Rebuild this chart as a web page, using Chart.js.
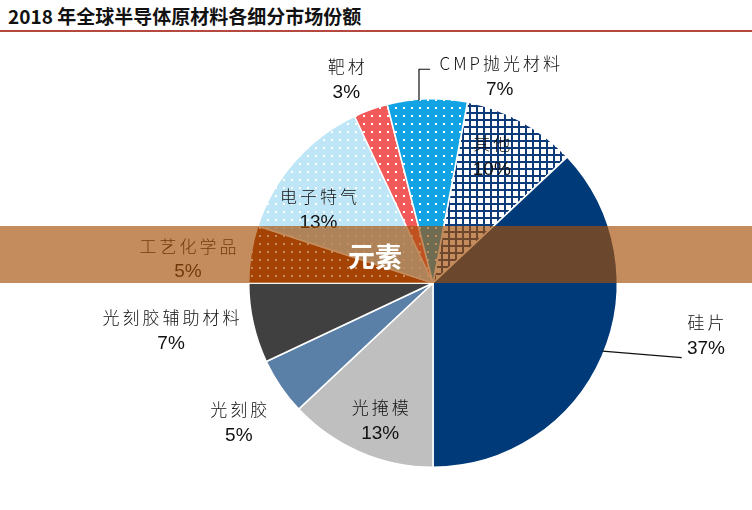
<!DOCTYPE html>
<html><head><meta charset="utf-8">
<script src="https://cdn.jsdelivr.net/npm/chart.js@4"></script>
<style>
body{margin:0;width:752px;height:510px;background:#fff;overflow:hidden;font-family:"Noto Sans CJK SC",sans-serif;position:relative}
#title{position:absolute;left:8px;top:2px;font-size:19px;font-weight:bold;color:#111;letter-spacing:0px}
#rule{position:absolute;left:0;top:30px;width:752px;height:2px;background:#b5483f}
#band{position:absolute;left:0;top:226px;width:752px;height:57px;background:rgba(165,78,4,0.65);z-index:5}
#band span{position:absolute;left:348px;top:10px;color:#fff;font-size:27px;font-weight:bold}
canvas{position:absolute;left:0;top:0}
</style></head><body>
<div id="title">2018 年全球半导体原材料各细分市场份额</div>
<div id="rule"></div>
<canvas id="c" width="752" height="510"></canvas>
<div id="band"><span>元素</span></div>
<script>
const categories=['其他','硅片','光掩模','光刻胶','光刻胶辅助材料','工艺化学品','电子特气','靶材','CMP抛光材料'];
const values=[10,37,13,5,7,5,13,3,7];
const pctLabels=['10%','37%','13%','5%','7%','5%','13%','3%','7%'];

function dots(bg){const p=document.createElement('canvas');p.width=8;p.height=8;const x=p.getContext('2d');x.fillStyle=bg;x.fillRect(0,0,8,8);x.fillStyle='#fff';x.fillRect(3,3,2,2);return x.createPattern(p,'repeat');}
function grid(){const p=document.createElement('canvas');p.width=7;p.height=7;const x=p.getContext('2d');x.fillStyle='#fff';x.fillRect(0,0,7,7);x.fillStyle='#0d3a78';x.fillRect(0,0,7,2);x.fillRect(0,0,2,7);return x.createPattern(p,'repeat');}
const ctx0=document.getElementById('c').getContext('2d');
const colors=[grid(),'#003a78','#bfbfbf','#5b80a8','#404040',dots('#a33005'),dots('#bfe6f7'),dots('#f25a5a'),dots('#11a3e3')];
const labelPlugin={id:'lbl',afterDraw(ch){
 const c=ch.ctx;const a=ch.getDatasetMeta(0).data[0];const cx=a.x,cy=a.y,R=a.outerRadius;
 c.save();c.fillStyle='#111';c.textAlign='center';c.textBaseline='middle';
 c.strokeStyle='#111';c.lineWidth=1.2;
 c.beginPath();c.moveTo(cx+R*0.92,cy+R*0.37);c.lineTo(cx+R*1.35,cy+R*0.405);c.stroke();
 c.beginPath();c.moveTo(cx-R*0.076,cy-R*0.99);c.lineTo(cx-R*0.076,cy-R*1.16);c.lineTo(cx-R*0.016,cy-R*1.16);c.stroke();
 const off=[[59,-128],[274,52],[-53,137],[-195,139],[-263,47],[-246,-25],[-115,-75],[-87,-205],[67,-208]];
 off.forEach((o,i)=>{const f=R/185;const x=cx+o[0]*f,y=cy+o[1]*f;
  c.font='300 17px "Noto Sans CJK SC"';c.letterSpacing='3px';c.fillText(categories[i],x+1.5,y-12);
  c.letterSpacing='0px';c.font='19px "Liberation Sans"';c.fillText(pctLabels[i],x,y+14);});
 c.restore();}};
new Chart(ctx0,{type:'pie',data:{labels:categories,datasets:[{data:values,backgroundColor:colors,borderColor:'#fff',borderWidth:1.5}]},
options:{responsive:false,animation:false,rotation:10.8,layout:{padding:{left:248,right:134,top:98,bottom:42}},
plugins:{legend:{display:false},tooltip:{enabled:false}}},plugins:[labelPlugin]});
</script></body></html>
